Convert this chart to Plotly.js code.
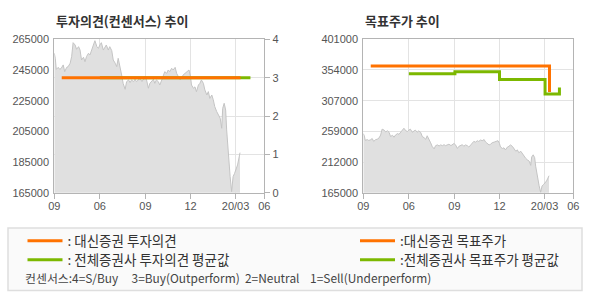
<!DOCTYPE html>
<html>
<head>
<meta charset="utf-8">
<script src="https://cdn.plot.ly/plotly-3.0.1.min.js"></script>
<style>
  html, body { margin: 0; padding: 0; background: #ffffff; }
  #chart { width: 590px; height: 300px; }
</style>
</head>
<body>
<div id="chart"></div>
<script>
// ---- data ----
const priceDates = [
  '2019-03-01','2019-03-03','2019-03-05','2019-03-09','2019-03-12','2019-03-15','2019-03-19','2019-03-22','2019-03-26','2019-03-29',
  '2019-04-02','2019-04-05','2019-04-08','2019-04-12','2019-04-15','2019-04-19','2019-04-22','2019-04-25','2019-04-29',
  '2019-05-02','2019-05-05','2019-05-09','2019-05-12','2019-05-16','2019-05-19','2019-05-22','2019-05-26','2019-05-29',
  '2019-06-01','2019-06-04','2019-06-08','2019-06-11','2019-06-14','2019-06-18','2019-06-21','2019-06-25','2019-06-28',
  '2019-07-02','2019-07-05','2019-07-08','2019-07-12','2019-07-15','2019-07-18','2019-07-22','2019-07-25','2019-07-29',
  '2019-08-01','2019-08-04','2019-08-08','2019-08-11','2019-08-14','2019-08-18','2019-08-21','2019-08-25','2019-08-28','2019-08-31',
  '2019-09-03','2019-09-07','2019-09-10','2019-09-13','2019-09-17','2019-09-20','2019-09-23','2019-09-27','2019-09-30',
  '2019-10-04','2019-10-07','2019-10-10','2019-10-14','2019-10-17','2019-10-20','2019-10-24','2019-10-27','2019-10-31',
  '2019-11-03','2019-11-06','2019-11-10','2019-11-13','2019-11-16','2019-11-20','2019-11-23','2019-11-26','2019-11-28',
  '2019-12-01','2019-12-03','2019-12-07','2019-12-10','2019-12-13','2019-12-17','2019-12-20','2019-12-23','2019-12-27','2019-12-30',
  '2020-01-03','2020-01-06','2020-01-09','2020-01-13','2020-01-16','2020-01-19','2020-01-23','2020-01-26','2020-01-30',
  '2020-02-02','2020-02-04','2020-02-07','2020-02-10','2020-02-12','2020-02-14','2020-02-17','2020-02-19','2020-02-22','2020-02-25','2020-02-28',
  '2020-03-02','2020-03-05','2020-03-07','2020-03-10'
];
const priceValues = [
  255900,252600,245400,246700,245400,246100,248300,243900,246700,247200,
  249400,253700,262800,261300,258500,260200,258000,251500,253300,
  250400,253700,255900,254800,258500,262400,264100,260200,259100,
  261300,262800,258000,260200,261300,258000,260200,257600,251500,
  249400,247200,252600,247200,241700,236300,232400,237400,238500,
  236800,238500,237400,238900,237400,238500,239600,237400,238900,240700,
  238900,233100,236300,237400,238900,236300,238500,237400,235200,
  238500,240700,243900,242800,245000,243900,246100,245000,246700,
  242800,240700,238500,239600,241700,242800,243900,244600,245000,
  240700,235200,233100,234000,230900,235200,236300,238500,236300,232000,
  228700,230900,226500,228700,225500,221100,217800,215700,213500,
  207000,220000,223300,218900,205900,195000,182000,175500,165700,175500,177600,
  179800,183100,186300,191100
];

const opinionOwnDates = ['2019-03-16','2020-03-11'];
const opinionOwnValues = [3, 3];
const opinionAvgDates = ['2019-06-01','2020-03-31'];
const opinionAvgValues = [3, 3];

const targetOwnDates = ['2019-03-16','2020-03-11'];
const targetOwnValues = [360000, 320000];
const targetAvgDates = ['2019-06-01','2019-09-02','2019-12-01','2020-03-02','2020-03-31'];
const targetAvgValues = [348000, 351000, 339000, 317000, 327000];

const xTickVals = ['2019-03-01','2019-06-01','2019-09-01','2019-12-01','2020-03-01','2020-04-28'];
const xTickText = ['09','06','09','12','20/03','06'];
const xRange = ['2019-03-01','2020-04-28'];

const leftPriceTicks = [165000,185000,205000,225000,245000,265000];
const opinionTicks = [0,1,2,3,4];
const rightPriceTickVals = [165000,212200,259400,306600,353800,401000];
const rightPriceTickText = ['165000','212000','259000','307000','354000','401000'];

const titleLeft = '투자의견(컨센서스) 추이';
const titleRight = '목표주가 추이';
const nameOpinionOwn = ': 대신증권 투자의견';
const nameOpinionAvg = ': 전체증권사 투자의견 평균값';
const nameTargetOwn = ':대신증권 목표주가';
const nameTargetAvg = ':전체증권사 목표주가 평균값';
const consensusNote = '컨센서스:4=S/Buy\u00a0\u00a0\u00a0\u00a0 3=Buy(Outperform)\u00a0 2=Neutral\u00a0\u00a0\u00a0 1=Sell(Underperform)';

// ---- styles ----
const ORANGE = '#ff7200';
const GREEN = '#7cb800';
const GRID = '#e3e3e3';
const AXIS = '#b4b4b4';
const FONT = '"Liberation Sans", "Noto Sans CJK KR", sans-serif';
const KFONT = '"Noto Sans CJK KR", sans-serif';

const W = 590, H = 300;
const px = v => v / W;
const py = v => 1 - v / H;

const traces = [
  {x: priceDates, y: priceValues, xaxis: 'x', yaxis: 'y', type: 'scatter', mode: 'lines',
   line: {color: '#c4c4c4', width: 1}, fill: 'tozeroy', fillcolor: '#e0e0e0', showlegend: false, hoverinfo: 'skip'},
  {x: opinionAvgDates, y: opinionAvgValues, xaxis: 'x', yaxis: 'y2', type: 'scatter', mode: 'lines',
   line: {color: GREEN, width: 3}, name: nameOpinionAvg, legend: 'legend2'},
  {x: opinionOwnDates, y: opinionOwnValues, xaxis: 'x', yaxis: 'y2', type: 'scatter', mode: 'lines',
   line: {color: ORANGE, width: 3}, name: nameOpinionOwn, legend: 'legend'},
  {x: priceDates, y: priceValues, xaxis: 'x2', yaxis: 'y3', type: 'scatter', mode: 'lines',
   line: {color: '#c4c4c4', width: 1}, fill: 'tozeroy', fillcolor: '#e0e0e0', showlegend: false, hoverinfo: 'skip'},
  {x: targetAvgDates, y: targetAvgValues, xaxis: 'x2', yaxis: 'y3', type: 'scatter', mode: 'lines',
   line: {color: GREEN, width: 3, shape: 'hv'}, name: nameTargetAvg, legend: 'legend4'},
  {x: targetOwnDates, y: targetOwnValues, xaxis: 'x2', yaxis: 'y3', type: 'scatter', mode: 'lines',
   line: {color: ORANGE, width: 3, shape: 'hv'}, name: nameTargetOwn, legend: 'legend3'}
];

const xCommon = {
  type: 'date', range: xRange, tickmode: 'array', tickvals: xTickVals, ticktext: xTickText,
  showgrid: true, gridcolor: GRID, gridwidth: 1, showline: true, linecolor: AXIS, linewidth: 1, mirror: true,
  ticks: 'outside', ticklen: 5, tickcolor: AXIS, ticklabelstandoff: -2,
  tickfont: {family: FONT, size: 11, color: '#555'}, zeroline: false, fixedrange: true
};

function legendAt(x, y) {
  return {x: px(x), y: py(y), xanchor: 'left', yanchor: 'middle', itemwidth: 35,
          bgcolor: 'rgba(0,0,0,0)', borderwidth: 0, font: {family: KFONT, size: 13.5, color: '#333'}};
}

const layout = {
  width: W, height: H,
  margin: {l: 0, r: 0, t: 0, b: 0},
  paper_bgcolor: '#ffffff', plot_bgcolor: '#ffffff',
  font: {family: FONT, size: 11, color: '#555'},
  xaxis: Object.assign({}, xCommon, {domain: [px(54.3), px(264.3)], anchor: 'y'}),
  yaxis: {domain: [py(192.7), py(39.3)], range: [165000, 265000], tickmode: 'array', tickvals: leftPriceTicks,
          tickformat: 'd', showgrid: false, showline: true, linecolor: AXIS, mirror: true, ticks: '',
          ticklabelstandoff: 2, zeroline: false, anchor: 'x', fixedrange: true,
          tickfont: {family: FONT, size: 11, color: '#555'}},
  yaxis2: {overlaying: 'y', side: 'right', anchor: 'x', range: [0, 4], tickmode: 'array', tickvals: opinionTicks,
           showgrid: true, gridcolor: GRID, showline: true, linecolor: AXIS, ticks: 'outside', ticklen: 5, tickcolor: AXIS,
           zeroline: false, fixedrange: true, tickfont: {family: FONT, size: 11, color: '#555'}},
  xaxis2: Object.assign({}, xCommon, {domain: [px(363.3), px(573.3)], anchor: 'y3'}),
  yaxis3: {domain: [py(192.7), py(39.3)], range: [165000, 401000], anchor: 'x2', tickmode: 'array',
           tickvals: rightPriceTickVals, ticktext: rightPriceTickText, showgrid: true, gridcolor: GRID,
           showline: true, linecolor: AXIS, mirror: true, ticks: '', ticklabelstandoff: 2, zeroline: false, fixedrange: true,
           tickfont: {family: FONT, size: 11, color: '#555'}},
  legend: legendAt(22.5, 241),
  legend2: legendAt(22.5, 260),
  legend3: legendAt(355, 241),
  legend4: legendAt(355, 260),
  shapes: [
    {type: 'rect', xref: 'paper', yref: 'paper', x0: px(8), x1: px(582), y0: py(290.5), y1: py(228),
     fillcolor: '#fafafa', line: {color: '#dedede', width: 1.5}, layer: 'below'}
  ],
  annotations: [
    {xref: 'paper', yref: 'paper', x: px(54), y: py(20.5), xanchor: 'left', yanchor: 'middle', showarrow: false,
     text: '<b>' + titleLeft + '</b>', font: {family: KFONT, size: 13, color: '#333'}},
    {xref: 'paper', yref: 'paper', x: px(363), y: py(20.5), xanchor: 'left', yanchor: 'middle', showarrow: false,
     text: '<b>' + titleRight + '</b>', font: {family: KFONT, size: 13, color: '#333'}},
    {xref: 'paper', yref: 'paper', x: px(23), y: py(277.5), xanchor: 'left', yanchor: 'middle', showarrow: false,
     text: consensusNote, font: {family: KFONT, size: 11.9, color: '#444'}}
  ]
};

Plotly.newPlot('chart', traces, layout, {displayModeBar: false, staticPlot: true});
</script>
</body>
</html>
